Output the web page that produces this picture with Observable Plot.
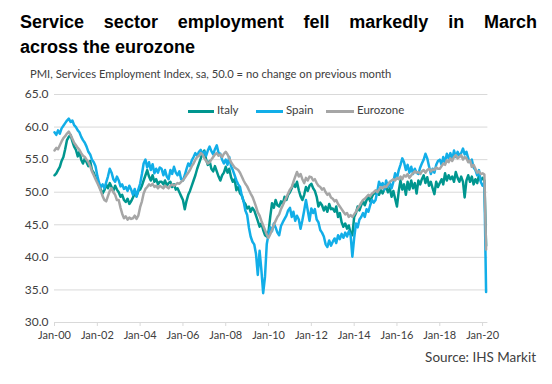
<!DOCTYPE html>
<html><head><meta charset="utf-8">
<script src="https://cdn.jsdelivr.net/npm/d3@7"></script>
<script src="https://cdn.jsdelivr.net/npm/@observablehq/plot@0.6"></script>
<style>
html,body{margin:0;padding:0;background:#fff}
body{width:552px;height:384px;overflow:hidden;position:relative;font-family:"Liberation Sans",Arial,sans-serif}
#title{position:absolute;left:20px;top:10px;width:517px;font-weight:bold;font-size:18px;line-height:25px;color:#000}
#title .l1{text-align:justify;text-align-last:justify}
.fit{position:absolute;white-space:nowrap;font-family:Lato,sans-serif;color:#404040}
#sub{left:30px;top:67px;font-size:11px}
#source{top:349px;font-size:11px}
#chart{position:absolute;left:0;top:80px}
.lg-line{position:absolute;height:3px}
.lg-text{position:absolute;font-family:Lato,sans-serif;font-size:11.5px;color:#404040;white-space:nowrap}
</style></head>
<body>
<div id="title"><div class="l1">Service sector employment fell markedly in March</div><div>across the eurozone</div></div>
<div id="sub" class="fit">PMI, Services Employment Index, sa, 50.0 = no change on previous month</div>
<div id="chart"></div>
<div id="legend"></div>
<div id="source" class="fit">Source: IHS Markit</div>
<script>
const seriesNames = ["Italy", "Spain", "Eurozone"];
const seriesColors = ["#00968F", "#12AEE8", "#A6A6A6"];
const yTicks = [30, 35, 40, 45, 50, 55, 60, 65];
const xTickYears = [2000, 2002, 2004, 2006, 2008, 2010, 2012, 2014, 2016, 2018, 2020];

// Monthly values, Jan-2000 .. Mar-2020
const italy = [
52.6,52.9,53.4,53.9,54.8,55.4,56.6,58.0,58.5,58.8,57.8,57.0,
56.5,55.5,56.2,55.0,54.4,55.2,54.6,54.0,54.8,53.4,53.0,52.2,
51.8,51.0,50.4,49.8,50.3,51.2,50.6,51.4,50.8,50.2,51.0,50.4,
50.0,49.3,49.6,48.8,48.5,49.0,48.2,48.6,49.2,49.8,49.4,50.2,
50.4,51.0,51.8,52.6,53.4,52.4,51.8,52.6,51.6,52.0,51.2,51.6,
51.6,51.2,51.8,51.0,51.4,51.6,50.8,51.2,50.4,50.6,50.0,49.4,
48.8,47.4,48.6,49.6,50.2,51.0,51.8,52.6,53.6,54.4,55.2,56.0,
56.4,55.0,54.2,54.8,53.6,53.2,54.0,53.2,52.4,51.8,52.6,53.0,
53.9,53.0,53.6,52.3,51.6,52.0,50.3,50.8,49.8,49.5,48.6,48.2,
47.5,47.8,47.0,47.6,47.2,46.4,45.6,44.7,45.2,44.2,43.4,43.2,
44.0,46.4,48.3,47.6,48.8,48.0,47.8,48.6,48.2,49.3,48.8,49.6,
50.0,50.6,51.3,50.8,51.6,50.3,49.4,48.8,49.6,50.8,50.2,51.0,
51.3,50.6,50.2,49.3,47.8,48.4,48.0,47.2,47.8,47.0,48.2,47.4,
47.5,47.0,47.8,46.2,46.8,45.4,44.7,45.2,44.4,44.9,43.7,43.4,
46.2,46.8,47.8,47.2,48.0,48.6,48.0,48.8,49.3,48.6,49.3,49.8,
49.8,50.3,49.6,50.3,49.8,50.5,50.8,50.0,50.6,49.3,50.2,49.0,
47.8,50.2,51.8,50.4,51.2,49.6,51.6,50.4,51.8,50.6,51.4,49.8,
51.8,51.2,52.0,52.6,51.4,52.3,51.0,51.6,50.6,49.7,51.6,50.8,
51.4,52.0,51.2,52.9,51.8,52.6,52.0,52.4,51.6,53.1,52.2,51.6,
52.4,51.6,49.2,51.8,52.6,51.6,52.4,51.2,52.0,51.4,52.6,51.8,
52.2,51.8,41.8
];
const spain = [
59.2,58.8,59.5,59.0,59.8,60.2,60.6,61.0,61.3,60.8,61.0,60.3,
60.0,59.5,59.2,58.5,58.0,57.6,57.0,56.2,55.8,55.0,54.6,54.0,
52.5,51.4,50.8,51.2,50.6,51.5,52.4,53.6,53.0,52.0,51.6,52.4,
51.8,50.9,51.2,50.5,50.8,50.2,51.0,50.4,49.6,50.5,49.3,50.4,
51.3,52.8,54.4,55.0,53.8,54.6,53.4,54.3,52.9,53.6,53.0,53.8,
53.6,52.6,53.4,52.4,52.0,53.4,52.8,53.9,53.0,52.6,53.2,52.0,
51.8,52.6,53.5,54.4,54.0,54.9,55.4,56.0,55.6,56.2,56.5,55.8,
56.2,55.6,56.4,57.0,56.3,55.8,56.6,57.2,56.0,55.9,55.0,54.4,
55.0,54.2,55.4,54.0,53.4,52.6,51.8,51.2,50.8,49.5,48.6,47.2,
46.5,44.5,43.2,42.4,42.0,40.5,37.3,41.0,38.0,34.5,37.0,42.0,
43.6,44.6,44.0,45.2,44.6,43.8,43.4,44.8,45.4,45.9,46.4,47.2,
47.6,46.2,47.0,45.6,46.4,45.8,44.4,45.7,47.2,48.8,47.2,45.6,
47.5,46.8,47.4,45.8,45.4,44.2,43.8,43.2,42.0,41.6,42.6,41.8,
42.4,42.9,42.2,43.4,42.8,43.6,43.0,43.8,43.2,44.0,43.4,40.1,
43.0,45.2,44.6,45.8,46.2,46.8,46.2,47.4,47.0,48.0,48.8,48.4,
48.8,50.2,51.6,51.0,51.4,50.4,51.8,50.8,51.4,50.6,51.6,52.9,
52.1,53.4,54.2,55.2,54.6,53.4,54.2,53.0,53.9,52.8,53.6,53.0,
52.8,53.8,54.4,55.0,55.9,55.2,54.0,52.8,53.6,53.0,54.2,54.8,
55.0,54.2,55.4,54.6,55.9,55.2,56.0,55.0,56.4,55.4,56.2,55.6,
56.0,56.7,55.8,56.2,55.2,54.6,55.0,53.8,53.4,52.6,53.4,51.6,
51.0,51.4,34.7
];
const eurozone = [
56.4,56.8,56.6,57.2,57.8,58.3,58.6,59.0,59.3,58.8,58.2,57.6,
57.2,56.8,56.5,56.0,55.6,55.4,55.0,54.6,54.0,53.2,52.6,52.0,
51.4,50.8,50.2,49.4,48.8,48.6,49.4,50.2,50.6,50.0,49.6,48.8,
48.8,47.6,46.7,46.0,46.3,45.8,46.1,45.9,46.0,46.4,45.9,46.4,
47.7,48.6,49.8,50.5,50.8,51.2,51.0,51.3,50.8,51.0,50.6,51.0,
50.8,50.6,51.0,50.8,50.6,51.0,51.2,51.0,51.2,51.4,51.3,51.6,
51.8,52.2,52.6,53.0,53.4,54.0,54.4,55.0,55.4,55.6,56.0,55.8,
55.2,54.8,54.4,54.6,55.0,55.4,55.8,56.0,55.6,55.8,55.4,55.9,
56.2,55.8,55.2,54.6,54.2,53.8,53.6,53.4,53.0,52.4,51.8,51.3,
50.9,50.3,49.8,49.3,48.6,47.8,46.9,46.4,45.6,44.9,44.2,43.5,
43.0,43.6,44.2,45.0,45.6,46.2,46.6,47.4,48.0,48.6,49.2,49.8,
50.4,50.8,51.6,52.4,53.1,52.4,52.8,52.0,51.4,52.2,51.8,52.4,
52.3,51.8,52.0,51.4,51.0,50.8,50.4,50.6,50.0,49.6,49.8,49.2,
49.0,48.6,48.8,48.2,47.8,47.4,47.0,46.6,46.8,46.2,46.5,46.2,
46.6,47.0,47.5,47.9,48.4,48.8,49.0,49.3,49.6,49.4,49.8,50.0,
50.3,50.0,50.4,50.8,50.6,50.9,50.8,51.2,51.6,51.8,52.0,51.8,
52.2,52.0,52.4,52.0,52.6,52.4,52.8,52.2,52.6,52.9,53.2,53.0,
53.1,52.8,53.2,53.4,53.0,53.4,53.6,53.2,53.5,53.4,53.8,53.6,
53.6,54.0,54.4,54.2,54.9,54.6,55.2,54.8,55.4,55.7,55.2,55.4,
55.7,55.0,55.4,55.2,54.6,54.9,53.9,54.2,53.6,53.0,53.2,52.8,
52.9,52.7,41.2
];

const startDate = new Date(Date.UTC(2000, 0, 1));
const endDate = new Date(Date.UTC(2020, 3, 1));
const months = d3.utcMonth.range(startDate, endDate);
const rows = [];
[italy, spain, eurozone].forEach((vals, k) => vals.forEach((v, i) => rows.push({date: months[i], value: v, series: seriesNames[k]})));
const xTicks = xTickYears.map(y => new Date(Date.UTC(y, 0, 1)));

const chart = Plot.plot({
  width: 552, height: 280,
  marginLeft: 54, marginRight: 64.6, marginTop: 14, marginBottom: 38,
  style: {fontFamily: "Lato, sans-serif", fontSize: "11px", background: "transparent"},
  x: {type: "utc", domain: [startDate, endDate]},
  y: {domain: [30, 65]},
  color: {domain: seriesNames, range: seriesColors},
  marks: [
    Plot.ruleY(yTicks, {stroke: "#D9D9D9", strokeWidth: 1}),
    Plot.axisY({ticks: yTicks, tickSize: 0, tickPadding: 6, tickFormat: d => d.toFixed(1), label: null, fill: "#404040", fontSize: 12}),
    Plot.axisX({ticks: xTicks, tickSize: 4, tickPadding: 5, stroke: "#D9D9D9", fill: "#404040", fontSize: 11, label: null,
      tickFormat: d => "Jan-" + String(d.getUTCFullYear()).slice(2)}),
    Plot.line(rows, {x: "date", y: "value", z: "series", stroke: "series", strokeWidth: 2.5, curve: "linear"})
  ]
});
document.getElementById("chart").appendChild(chart);

// legend
const legend = document.getElementById("legend");
const lgPos = [[188, 217], [256, 286], [326, 357]];
seriesNames.forEach((n, k) => {
  const ln = document.createElement("div");
  ln.className = "lg-line";
  ln.style.left = lgPos[k][0] + "px"; ln.style.top = "110px";
  ln.style.width = (lgPos[k][1] - lgPos[k][0] - 3) + "px";
  ln.style.background = seriesColors[k];
  legend.appendChild(ln);
  const tx = document.createElement("div");
  tx.className = "lg-text"; tx.textContent = n;
  tx.style.left = lgPos[k][1] + "px"; tx.style.top = "103px";
  legend.appendChild(tx);
});

function fitWidth(el, w) {
  const cur = el.getBoundingClientRect().width;
  const fs = parseFloat(getComputedStyle(el).fontSize);
  el.style.fontSize = (fs * w / cur) + "px";
}
const sub = document.getElementById("sub");
fitWidth(sub, 362);
const src = document.getElementById("source");
fitWidth(src, 111);
src.style.left = (536 - src.getBoundingClientRect().width) + "px";
</script>
</body></html>
